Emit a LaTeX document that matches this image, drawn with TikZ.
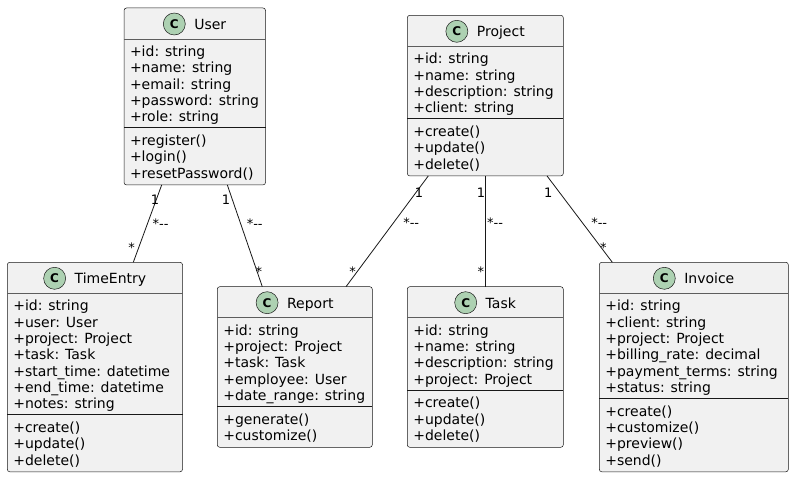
\documentclass[tikz,border=0pt]{standalone}
\usepackage{fontspec}
\setmainfont{DejaVu Sans}
\usetikzlibrary{calc}
\definecolor{boxfill}{HTML}{F1F1F1}
\definecolor{boxline}{HTML}{181818}
\definecolor{circfill}{HTML}{ADD1B2}
\tikzset{
 classbox/.style={draw=boxline, line width=0.5pt, fill=boxfill, rounded corners=2.5pt, inner sep=0pt, outer sep=0pt},
 hsep/.style={draw=boxline!70, line width=0.5pt},
 asep/.style={draw=boxline, line width=1pt},
 mtext/.style={inner sep=0pt, outer sep=0pt, font=\fontsize{14}{16.3}\selectfont, anchor=base west},
 ttext/.style={inner sep=0pt, outer sep=0pt, font=\fontsize{14}{16.3}\selectfont, anchor=base},
 circ/.style={circle, draw=boxline, line width=0.5pt, fill=circfill, minimum size=22pt, inner sep=0pt, font=\fontsize{12}{12}\selectfont\bfseries},
 conn/.style={draw=boxline, line width=0.8pt},
 mult/.style={inner sep=0pt, outer sep=0pt, font=\fontsize{13}{13}\selectfont, anchor=base},
}
% name, x, y(top), width, title, attrs, methods
\newcommand\umlclass[7]{%
  \xdef\na{0}\xdef\nm{0}%
  \foreach \t [count=\i] in {#6} {\xdef\na{\i}}%
  \foreach \t [count=\i] in {#7} {\xdef\nm{\i}}%
  \pgfmathsetmacro\hh{31+(\na+\nm)*16.3+15.5}%
  \pgfmathsetmacro\sepy{#3+31+\na*16.3+7.5}%
  \node[classbox, minimum width=#4pt, minimum height=\hh pt, anchor=north west] (#1) at (#2,#3) {};
  \draw[hsep] ([yshift=-31pt]#1.north west) -- ([yshift=-31pt]#1.north east);
  \draw[asep] (#2,\sepy) -- ++(#4,0);
  \node[ttext] (#1-t) at ({#2+#4/2+15.5},{#3+21.6}) {#5};
  \node[circ] (#1-c) at ($(#1-t.west |- #1.north)+(-20pt,-16pt)$) {C};
  \foreach \t [count=\i] in {#6} {\node[mtext] (#1-a\i) at ({#2+6},{#3+48.5+(\i-1)*16.3}) {\t};}
  \foreach \t [count=\i] in {#7} {\node[mtext] (#1-m\i) at ({#2+6},{\sepy+17.5+(\i-1)*16.3}) {\t};}
}
\begin{document}
\begin{tikzpicture}[x=1pt,y=-1pt]
\useasboundingbox (0,0) rectangle (794,478);
\fill[white] (0,0) rectangle (794,478);

\umlclass{User}{124}{8}{141.5}{User}
  {+id: string,+name: string,+email: string,+password: string,+role: string}
  {+register(),+login(),+resetPassword()}
\umlclass{Project}{407.3}{15.3}{156}{Project}
  {+id: string,+name: string,+description: string,+client: string}
  {+create(),+update(),+delete()}
\umlclass{TimeEntry}{7.3}{262.3}{175.2}{TimeEntry}
  {+id: string,+user: User,+project: Project,+task: Task,+start\_time: datetime,+end\_time: datetime,+notes: string}
  {+create(),+update(),+delete()}
\umlclass{Report}{217.3}{286.7}{155}{Report}
  {+id: string,+project: Project,+task: Task,+employee: User,+date\_range: string}
  {+generate(),+customize()}
\umlclass{Task}{407.3}{286.7}{156}{Task}
  {+id: string,+name: string,+description: string,+project: Project}
  {+create(),+update(),+delete()}
\umlclass{Invoice}{599.3}{262.3}{189}{Invoice}
  {+id: string,+client: string,+project: Project,+billing\_rate: decimal,+payment\_terms: string,+status: string}
  {+create(),+customize(),+preview(),+send()}

% connectors
\draw[conn] ([xshift=37.7pt]User.south west) -- ([xshift=126pt]TimeEntry.north west);
\draw[conn] ([xshift=103.3pt]User.south west) -- ([xshift=45pt]Report.north west);
\draw[conn] ([xshift=21pt]Project.south west) -- ([xshift=128.7pt]Report.north west);
\draw[conn] ([xshift=78.4pt]Project.south west) -- ([xshift=78.4pt]Task.north west);
\draw[conn] ([xshift=139.7pt]Project.south west) -- ([xshift=13pt]Invoice.north west);

% multiplicities
\node[mult] (ut1) at (155,205) {1};
\node[mult] (ut2) at (160.5,229) {*-{}-};
\node[mult] (ut3) at (131.5,252) {*};
\node[mult] (ur1) at (226,205) {1};
\node[mult] (ur2) at (254.7,229) {*-{}-};
\node[mult] (ur3) at (258.8,276.5) {*};
\node[mult] (pr1) at (419,197.5) {1};
\node[mult] (pr2) at (411.2,227.2) {*-{}-};
\node[mult] (pr3) at (352.5,276.5) {*};
\node[mult] (pt1) at (481,197.5) {1};
\node[mult] (pt2) at (495,227.2) {*-{}-};
\node[mult] (pt3) at (480.8,276) {*};
\node[mult] (pi1) at (548.2,197.5) {1};
\node[mult] (pi2) at (599.2,227.2) {*-{}-};
\node[mult] (pi3) at (603.3,252.2) {*};
\end{tikzpicture}
\end{document}
